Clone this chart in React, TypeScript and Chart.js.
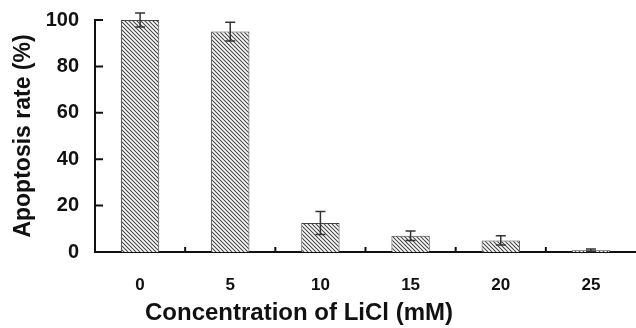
import React, { useEffect, useRef } from "react";
import { Chart, registerables } from "chart.js";

Chart.register(...registerables);

const categories = ["0", "5", "10", "15", "20", "25"];
const apoptosisRate = [100, 95, 12.5, 7, 5, 0.8];
const errors = [3, 4, 5, 2, 2, 0.5];
const yTicks = [0, 20, 40, 60, 80, 100];
const xTitle = "Concentration of LiCl (mM)";
const yTitle = "Apoptosis rate (%)";

const FONT = "Arial, 'Liberation Sans', sans-serif";

function makeHatch(): CanvasPattern | string {
  const c = document.createElement("canvas");
  c.width = 4;
  c.height = 4;
  const g = c.getContext("2d");
  if (!g) return "#999";
  g.fillStyle = "#ffffff";
  g.fillRect(0, 0, 4, 4);
  g.strokeStyle = "#444";
  g.lineWidth = 1.1;
  g.beginPath();
  g.moveTo(-1, -1);
  g.lineTo(5, 5);
  g.moveTo(-1, 3);
  g.lineTo(1, 5);
  g.moveTo(3, -1);
  g.lineTo(5, 1);
  g.stroke();
  const p = g.createPattern(c, "repeat");
  return p || "#999";
}

const errorBarsPlugin = {
  id: "errorBars",
  afterDatasetsDraw(chart: any) {
    const ctx = chart.ctx;
    const meta = chart.getDatasetMeta(0);
    const y = chart.scales.y;
    ctx.save();
    ctx.strokeStyle = "#333";
    ctx.lineWidth = 1.5;
    meta.data.forEach((bar: any, i: number) => {
      const v = apoptosisRate[i];
      const e = errors[i];
      const top = y.getPixelForValue(v + e);
      const bot = y.getPixelForValue(Math.max(0, v - e));
      const x = bar.x;
      ctx.beginPath();
      ctx.moveTo(x, top);
      ctx.lineTo(x, bot);
      ctx.moveTo(x - 5, top);
      ctx.lineTo(x + 5, top);
      ctx.moveTo(x - 5, bot);
      ctx.lineTo(x + 5, bot);
      ctx.stroke();
    });
    ctx.restore();
  },
  afterDraw(chart: any) {
    const ctx = chart.ctx;
    const area = chart.chartArea;
    const y = chart.scales.y;
    const x = chart.scales.x;
    ctx.save();
    ctx.strokeStyle = "#111";
    ctx.lineWidth = 2;
    ctx.beginPath();
    yTicks.forEach((t) => {
      const py = y.getPixelForValue(t);
      ctx.moveTo(area.left, py);
      ctx.lineTo(area.left + 8, py);
    });
    for (let i = 1; i < categories.length; i++) {
      const px = (x.getPixelForValue(i - 1) + x.getPixelForValue(i)) / 2;
      ctx.moveTo(px, area.bottom);
      ctx.lineTo(px, area.bottom - 5);
    }
    ctx.stroke();
    // x axis title
    ctx.fillStyle = "#111";
    ctx.font = "bold 24px " + FONT;
    ctx.textAlign = "center";
    ctx.textBaseline = "alphabetic";
    ctx.fillText(xTitle, 299, 320);
    ctx.restore();
  },
};

export default function App() {
  const ref = useRef<HTMLCanvasElement>(null);
  useEffect(() => {
    if (!ref.current) return;
    const chart = new Chart(ref.current, {
      type: "bar",
      data: {
        labels: categories,
        datasets: [
          {
            data: apoptosisRate,
            backgroundColor: makeHatch() as any,
            borderColor: "#444",
            borderWidth: 1,
            barPercentage: 0.85,
            categoryPercentage: 0.5,
          },
        ],
      },
      options: {
        animation: false,
        responsive: false,
        maintainAspectRatio: false,
        layout: { padding: { top: 20, right: 0, left: 0, bottom: 0 } },
        plugins: { legend: { display: false }, tooltip: { enabled: false } },
        scales: {
          x: {
            grid: { display: false, drawTicks: false },
            border: { display: true, color: "#111", width: 2 },
            ticks: {
              color: "#111",
              padding: 23,
              font: { family: FONT, size: 17, weight: "bold" },
            },
            afterFit(scale: any) {
              scale.height = 76;
            },
          },
          y: {
            min: 0,
            max: 100,
            afterBuildTicks(scale: any) {
              scale.ticks = yTicks.map((v) => ({ value: v }));
            },
            grid: { display: false, drawTicks: false },
            border: { display: true, color: "#111", width: 2 },
            ticks: {
              color: "#111",
              padding: 16,
              font: { family: FONT, size: 20, weight: "bold" },
            },
            title: {
              display: true,
              text: yTitle,
              color: "#111",
              padding: { top: 10, bottom: 0 },
              font: { family: FONT, size: 23, weight: "bold" },
            },
            afterFit(scale: any) {
              scale.width = 95;
              scale.paddingTop = 0;
            },
          },
        },
      },
      plugins: [errorBarsPlugin],
    });
    return () => chart.destroy();
  }, []);
  return (
    <div style={{ position: "fixed", left: 0, top: 0, width: 636, height: 328, background: "#fff" }}>
      <canvas ref={ref} width={636} height={328} />
    </div>
  );
}
